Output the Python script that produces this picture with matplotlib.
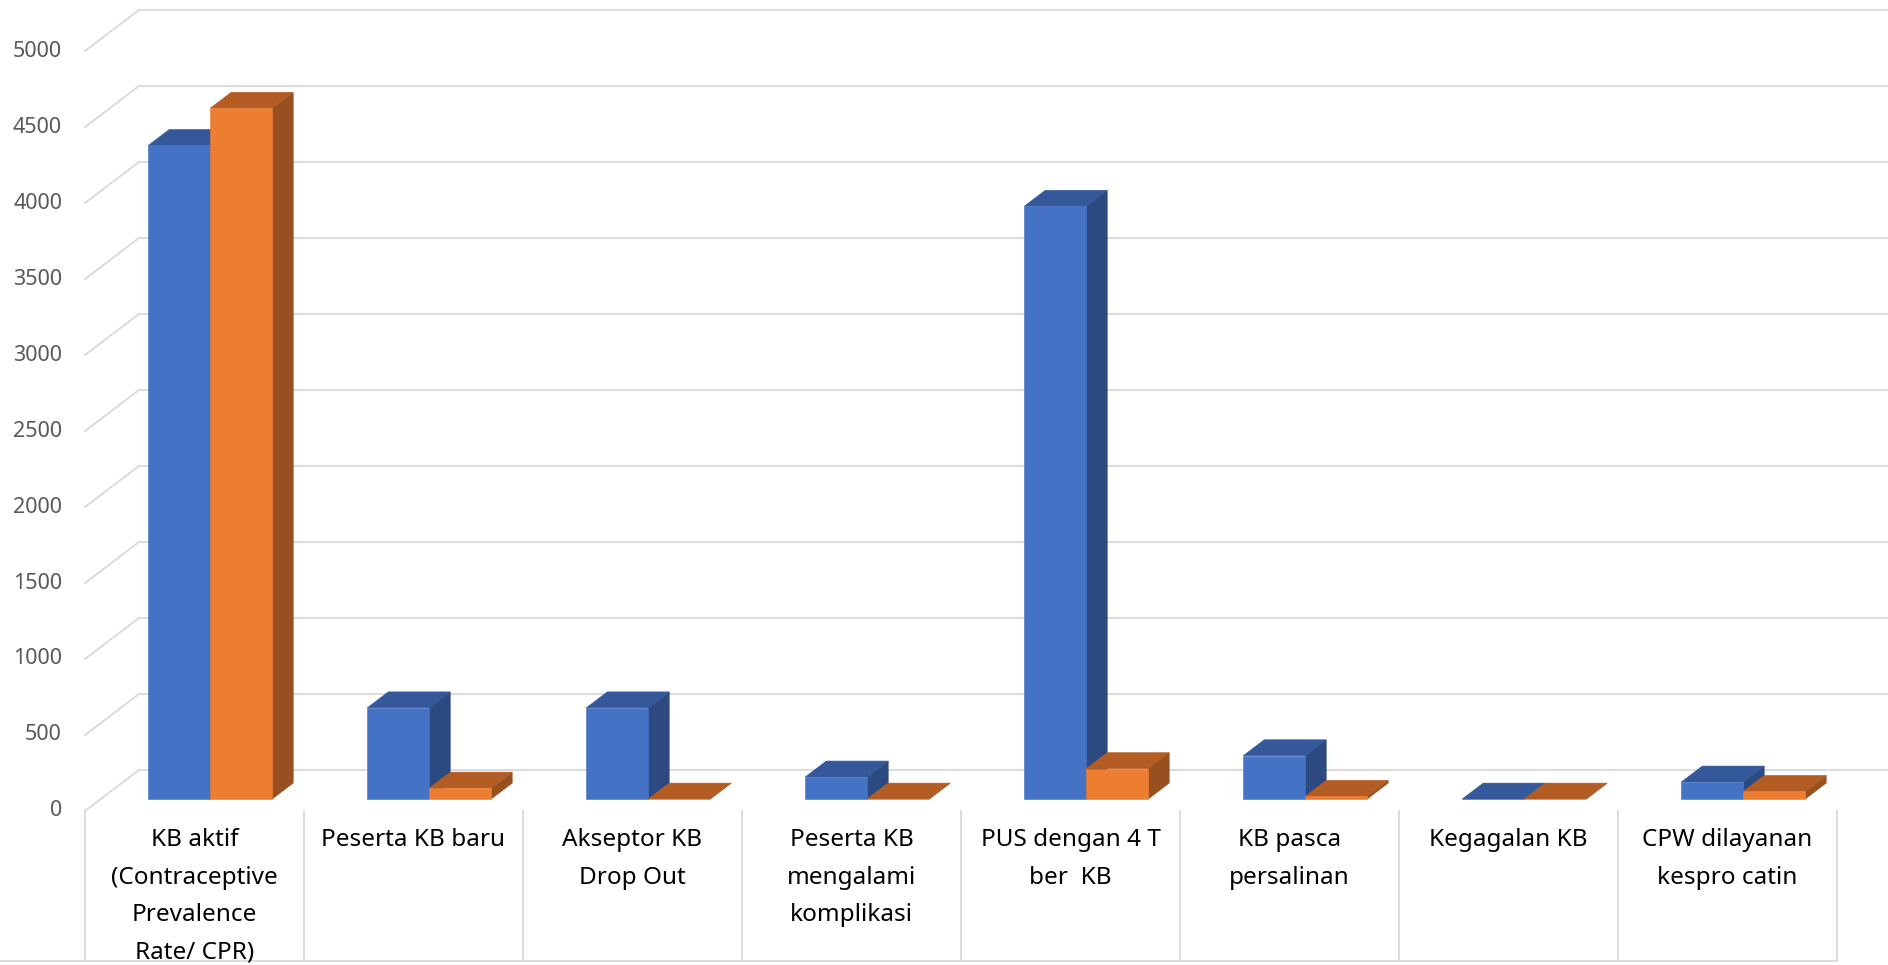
import matplotlib
matplotlib.use("Agg")
import matplotlib.pyplot as plt
from matplotlib.patches import Polygon

# ---- data ----
categories = [
    "KB aktif\n(Contraceptive\nPrevalence\nRate/ CPR)",
    "Peserta KB baru",
    "Akseptor KB\nDrop Out",
    "Peserta KB\nmengalami\nkomplikasi",
    "PUS dengan 4 T\nber  KB",
    "KB pasca\npersalinan",
    "Kegagalan KB",
    "CPW dilayanan\nkespro catin",
]
series_blue = [4300, 600, 600, 145, 3900, 285, 0, 112]
series_orange = [4545, 72, 0, 0, 200, 18, 0, 50]
yticks = [0, 500, 1000, 1500, 2000, 2500, 3000, 3500, 4000, 4500, 5000]

# ---- styles ----
BLUE = ("#4472C4", "#34589A", "#2C4A80")      # front, top, side
ORANGE = ("#ED7D31", "#B35C23", "#985020")
GRID = "#D9D9D9"
FONT = ["Noto Sans", "DejaVu Sans"]

# oblique depth of the whole plot box (category units, value units)
DX = 54 / 219
DY = 270
F0, F1 = 0.29, 0.68          # bar depth range (fraction of box depth)
GAP, W = 0.217, 0.283        # gap before pair, width of one bar
N = len(categories)

fig = plt.figure(figsize=(18.88, 9.65), dpi=100)
ax = fig.add_axes([0, 0, 1, 1])
ax.set_xlim(-85 / 219, (1888 - 85) / 219)
ax.set_ylim(-154 / 0.152, 811 / 0.152)
ax.axis("off")

# back wall gridlines + left wall diagonals
for v in yticks:
    ax.plot([DX, N + DX + 0.5], [v + DY, v + DY], color=GRID, lw=1.3, zorder=1)
    ax.plot([0, DX], [v, v + DY], color=GRID, lw=1.3, zorder=1)
    ax.text(-0.105, v, str(v), ha="right", va="center", fontsize=15.5,
            color="#595959", family=FONT)

# category table below the floor
TABLE_BOTTOM = -985
for i in range(N + 1):
    ax.plot([i, i], [0, TABLE_BOTTOM], color=GRID, lw=1.3, zorder=1)
ax.plot([-85 / 219, N], [TABLE_BOTTOM, TABLE_BOTTOM], color=GRID, lw=1.3, zorder=1)
for i, lab in enumerate(categories):
    ax.text(i + 0.5, -112, lab, ha="center", va="top", fontsize=17.5,
            color="black", family=FONT, linespacing=1.75)


def bar3d(x0, w, h, cols):
    fx, fy = F0 * DX, F0 * DY
    bx, by = F1 * DX, F1 * DY
    front = [(x0 + fx, fy), (x0 + w + fx, fy), (x0 + w + fx, fy + h), (x0 + fx, fy + h)]
    top = [(x0 + fx, fy + h), (x0 + w + fx, fy + h), (x0 + w + bx, by + h), (x0 + bx, by + h)]
    side = [(x0 + w + fx, fy), (x0 + w + bx, by), (x0 + w + bx, by + h), (x0 + w + fx, fy + h)]
    for poly, c in ((side, cols[2]), (top, cols[1]), (front, cols[0])):
        ax.add_patch(Polygon(poly, closed=True, facecolor=c, edgecolor=c, lw=0.4, zorder=3))


for i in range(N):
    bar3d(i + GAP, W, series_blue[i], BLUE)
    bar3d(i + GAP + W, W, series_orange[i], ORANGE)

fig.savefig("out.png", dpi=100)
